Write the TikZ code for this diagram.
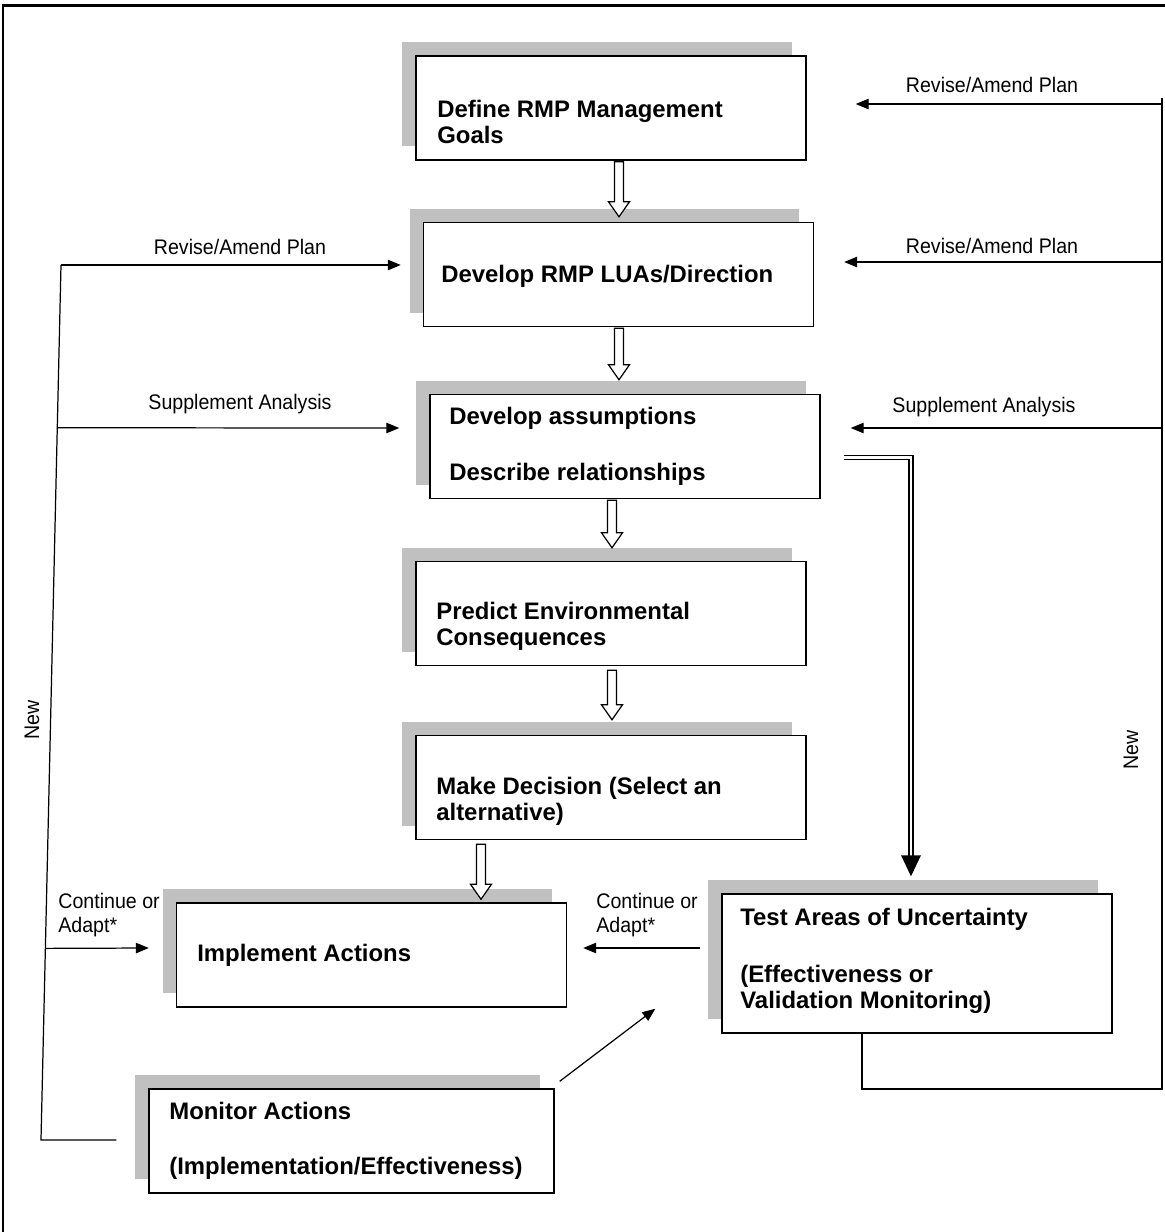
\documentclass[tikz,border=0pt]{standalone}
\usepackage{fontspec}
\setmainfont{Liberation Sans}
\newfontfamily\narrowfont[FakeStretch=0.93]{Liberation Sans}
\usetikzlibrary{arrows.meta,calc,shadows}
\definecolor{shadowgray}{HTML}{C0C0C0}
\newcommand\hollowdown[2]{%
\draw [black,fill=white,line width=0.7pt] ($(#1)+(-4.5,0)$) -- ($(#2)+(-4.5,-15)$) -- ($(#2)+(-10.5,-15)$) -- (#2) -- ($(#2)+(10.5,-15)$) -- ($(#2)+(4.5,-15)$) -- ($(#1)+(4.5,0)$) -- cycle;}

\begin{document}
\begin{tikzpicture}[x=0.02cm,y=-0.02cm,
  stepbox/.style={draw=black,fill=white,line width=0.85pt,minimum width=7.8cm,minimum height=2.08cm,inner sep=0pt,
    drop shadow={shadow xshift=-0.28cm,shadow yshift=0.28cm,fill=shadowgray,opacity=1}},
  boxtext/.style={anchor=west,align=left,inner sep=0pt,font=\bfseries\fontsize{13.6}{14.8}\selectfont},
  sidetext/.style={inner sep=0pt,align=left,font=\narrowfont\fontsize{12}{14}\selectfont},
  flowline/.style={black,line width=0.7pt},
  flowarrow/.style={black,line width=0.7pt,-{Triangle[length=0.26cm,width=0.21cm]}}]
\useasboundingbox (0,0) rectangle (1165,1232);
\draw [black,line width=1.7pt] (3,5) rectangle (1185,1250);
\node [stepbox] (b1) at (611,108) {};
\node [stepbox] (b2) at (618.5,274.5) {};
\node [stepbox] (b3) at (625,446.5) {};
\node [stepbox] (b4) at (611,613.5) {};
\node [stepbox] (b5) at (611,787.5) {};
\node [stepbox] (b6) at (371.5,955) {};
\node [stepbox,minimum height=2.78cm] (b7) at (917,963.5) {};
\node [stepbox,minimum width=8.1cm] (b8) at (351.5,1141) {};
\node [boxtext] (t1) at (437,121.5) {Define RMP Management\\Goals};
\node [boxtext] (t2) at (441,276) {Develop RMP LUAs/Direction};
\node [boxtext] (t3) at (449,446) {Develop assumptions\\[17pt]Describe relationships};
\node [boxtext] (t4) at (436,626.5) {Predict Environmental\\Consequences};
\node [boxtext] (t5) at (436,801.5) {Make Decision (Select an\\alternative)};
\node [boxtext] (t6) at (197,955) {Implement Actions};
\node [boxtext] (t7) at (740,960.5) {Test Areas of Uncertainty\\[17.5pt](Effectiveness or\\Validation Monitoring)};
\node [boxtext] (t8) at (169,1140.5) {Monitor Actions\\[16.5pt](Implementation/Effectiveness)};
\coordinate (h1a) at ($(b1.south)+(8,1)$);
\coordinate (h1b) at ($(b2.north)+(0.5,-5)$);
\coordinate (h2a) at ($(b2.south)+(0.5,1)$);
\coordinate (h2b) at ($(b3.north)+(-6,-14)$);
\coordinate (h3a) at ($(b3.south)+(-13,1)$);
\coordinate (h3b) at ($(b4.north)+(1,-13)$);
\coordinate (h4a) at ($(b4.south)+(1,4)$);
\coordinate (h4b) at ($(b5.north)+(1,-15)$);
\coordinate (h5a) at ($(b5.south)+(-130,4)$);
\coordinate (h5b) at ($(b6.north)+(109.5,-3)$);
\hollowdown{h1a}{h1b}
\hollowdown{h2a}{h2b}
\hollowdown{h3a}{h3b}
\hollowdown{h4a}{h4b}
\hollowdown{h5a}{h5b}
\coordinate (rtop) at (1162,98);
\coordinate (rbot) at (1162,1089);
\draw [flowline] ($(b7.south)+(-55,0)$) |- (rbot) -- (rtop);
\draw [flowarrow] (rtop |- 0,104) -- ($(b1.east)+(49,-4)$);
\node [sidetext] (l1) at (992,85) {Revise/Amend Plan};
\draw [flowarrow] (rtop |- 0,262) -- ($(b2.east)+(30,-12.5)$);
\node [sidetext] (l2) at (992,246) {Revise/Amend Plan};
\draw [flowarrow] (rtop |- 0,428) -- ($(b3.east)+(30,-18.5)$);
\node [sidetext] (l3) at (984,407) {Supplement Analysis};
\node [sidetext,rotate=90] (l4) at (1131,750) {New};
\coordinate (ltop) at (61,265);
\coordinate (lbot) at (41,1140);
\draw [flowline] (ltop) -- (lbot) -- ($(b8.west)+(-32,-1)$);
\draw [flowarrow] (ltop) -- ($(b2.west)+(-22,-9.5)$);
\node [sidetext] (l5) at (240,247) {Revise/Amend Plan};
\draw [flowarrow] ($(ltop)!0.186!(lbot)$) -- ($(b3.west)+(-30,-18.5)$);
\node [sidetext] (l6) at (240,404) {Supplement Analysis};
\draw [flowarrow] ($(ltop)!0.781!(lbot)$) -- ($(b6.west)+(-27,-7)$);
\node [sidetext,anchor=west] (l7) at (58,915) {Continue or\\Adapt*};
\node [sidetext,rotate=90] (l8) at (32,720) {New};
\draw [flowarrow] ($(b7.west)+(-21,-15.5)$) -- ($(b6.east)+(16,-7)$);
\node [sidetext,anchor=west] (l9) at (596,915) {Continue or\\Adapt*};
\draw [flowarrow] ($(b8.north east)+(5,-7)$) -- ($(b7.south west)+(-66,-25)$);
\coordinate (dstart) at ($(b3.east)+(23,11)$);
\coordinate (dtip) at ($(b7.north)+(-6,-17)$);
\draw [black,double,line width=0.8pt,double distance=1.4pt] (dstart) -| ($(dtip)+(0,-20)$);
\fill [black] (dtip) -- ++(-10,-21) -- ++(20,0) -- cycle;
\end{tikzpicture}
\end{document}
